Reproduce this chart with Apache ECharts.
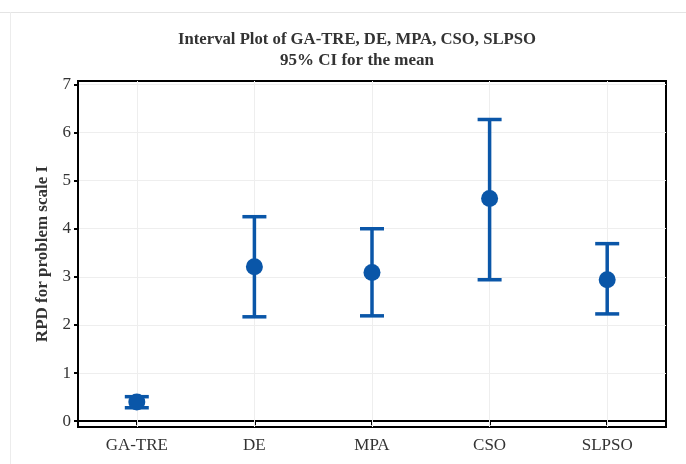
<!DOCTYPE html>
<html><head><meta charset="utf-8">
<script src="https://cdn.jsdelivr.net/npm/echarts@6/dist/echarts.min.js"></script>
<style>html,body{margin:0;padding:0;background:#fff}#c{width:686px;height:464px}</style>
</head><body><div id="c"></div>
<script>
const categories = ['GA-TRE', 'DE', 'MPA', 'CSO', 'SLPSO'];
const means = [0.40, 3.21, 3.09, 4.63, 2.94];
const lowers = [0.28, 2.17, 2.19, 2.94, 2.23];
const uppers = [0.51, 4.25, 4.00, 6.27, 3.69];
const yTicks = [0, 1, 2, 3, 4, 5, 6, 7];

const blue = '#0a56a8';
const serif = '"Liberation Serif", "Times New Roman", serif';
const chart = echarts.init(document.getElementById('c'), null, {renderer: 'canvas'});
chart.setOption({
  animation: false,
  backgroundColor: '#fff',
  graphic: [
    {type: 'line', shape: {x1: 0, y1: 12.5, x2: 686, y2: 12.5}, style: {stroke: '#e4e4e4', lineWidth: 1}, silent: true},
    {type: 'line', shape: {x1: 10.5, y1: 12, x2: 10.5, y2: 464}, style: {stroke: '#ececec', lineWidth: 1}, silent: true}
  ],
  title: {
    text: 'Interval Plot of GA-TRE, DE, MPA, CSO, SLPSO',
    subtext: '95% CI for the mean',
    left: 352, top: 26, textAlign: 'center', itemGap: 4,
    textStyle: {fontFamily: serif, fontSize: 16.7, fontWeight: 'bold', color: '#333'},
    subtextStyle: {fontFamily: serif, fontSize: 17, fontWeight: 'bold', color: '#333'}
  },
  grid: {left: 78, right: 20, top: 81, bottom: 37, show: true, borderColor: '#000', borderWidth: 2, backgroundColor: 'transparent'},
  xAxis: {
    type: 'category', data: categories, boundaryGap: true,
    axisLine: {show: true, lineStyle: {color: '#000', width: 2}},
    axisTick: {show: true, alignWithLabel: true, length: 4, lineStyle: {color: '#000', width: 2}},
    axisLabel: {fontFamily: serif, fontSize: 17, color: '#333', margin: 10},
    splitLine: {show: false}
  },
  yAxis: {
    type: 'value', min: -0.12, max: 7.07,
    name: 'RPD for problem scale I', nameLocation: 'middle', nameGap: 21,
    nameTextStyle: {fontFamily: serif, fontSize: 17, fontWeight: 'bold', color: '#333'},
    axisLine: {show: true, lineStyle: {color: '#000', width: 2}},
    axisTick: {show: true, length: 4, customValues: yTicks, lineStyle: {color: '#000', width: 2}},
    axisLabel: {fontFamily: serif, fontSize: 17, color: '#333', margin: 7, customValues: yTicks},
    splitLine: {show: true, lineStyle: {color: '#eeeeee', width: 1}}
  },
  series: [
    {
      type: 'custom',
      data: categories.map((c, i) => [i, lowers[i], uppers[i]]),
      renderItem: function (params, api) {
        const x = api.value(0);
        const lo = api.coord([x, api.value(1)]);
        const hi = api.coord([x, api.value(2)]);
        const hw = 12;
        const st = {stroke: blue, lineWidth: 3.5};
        return {type: 'group', children: [
          {type: 'line', shape: {x1: lo[0], y1: lo[1], x2: hi[0], y2: hi[1]}, style: st},
          {type: 'line', shape: {x1: lo[0] - hw, y1: lo[1], x2: lo[0] + hw, y2: lo[1]}, style: st},
          {type: 'line', shape: {x1: hi[0] - hw, y1: hi[1], x2: hi[0] + hw, y2: hi[1]}, style: st}
        ]};
      },
      z: 3,
      markLine: {
        silent: true, symbol: 'none', label: {show: false},
        lineStyle: {color: '#eeeeee', width: 1, type: 'solid'},
        data: categories.map(c => ({xAxis: c})),
        z: 1
      }
    },
    {
      type: 'scatter', data: means, symbol: 'circle', symbolSize: 17,
      itemStyle: {color: blue, opacity: 1}, z: 4
    }
  ]
});
</script></body></html>
